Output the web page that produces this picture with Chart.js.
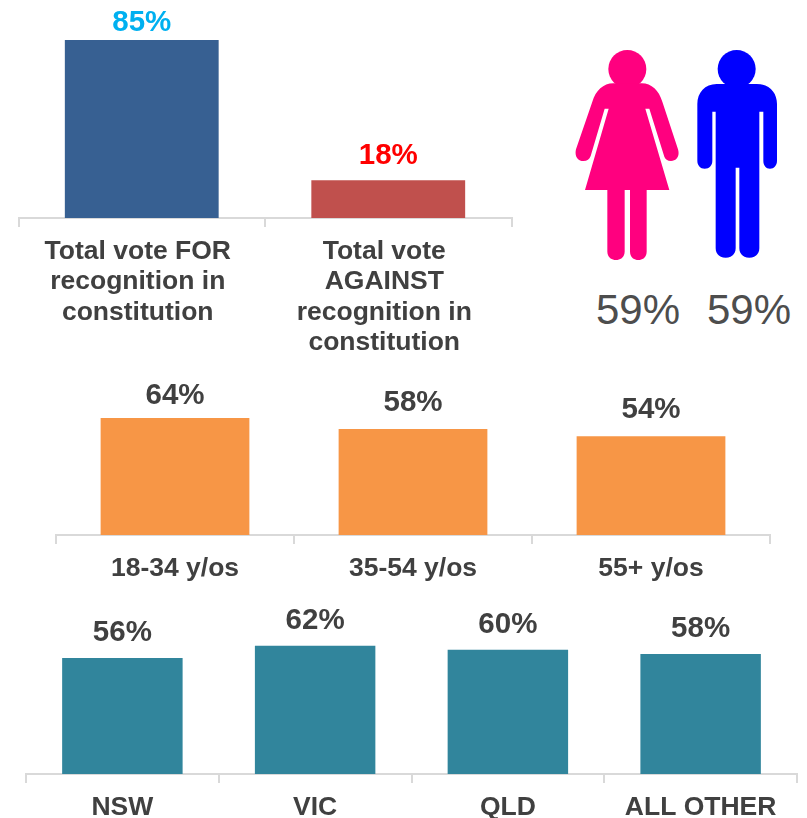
<!DOCTYPE html>
<html>
<head>
<meta charset="utf-8">
<style>
html,body{margin:0;padding:0;background:#fff;width:807px;height:818px;overflow:hidden}
canvas{position:absolute;display:block}
#icons{position:absolute;left:560px;top:30px}
.pct{position:absolute;top:286px;width:120px;text-align:center;font:42px/48px "Liberation Sans",Arial,sans-serif;color:#4d4d4d}
</style>
<script src="https://cdn.jsdelivr.net/npm/chart.js@4"></script>
</head>
<body>
<canvas id="voteChart" width="496" height="365" style="left:17px;top:0"></canvas>
<canvas id="ageChart" width="716" height="218" style="left:55px;top:370px"></canvas>
<canvas id="stateChart" width="773" height="228" style="left:25px;top:590px"></canvas>
<svg id="icons" width="240" height="310" viewBox="0 0 720 930">
  <circle cx="202" cy="117" r="57" fill="#FF007F"/>
  <path fill="#FF007F" d="M160 160H245C275 160 297 182 307 215L354 358C360 378 350 393 333 393C322 393 316 387 313 380L268 236H256L328 480H260V665C260 680 250 690 235 690C220 690 210 680 210 665V480H194V665C194 680 183 690 168 690C153 690 142 680 142 665V480H75L146 236H134L92 378C88 388 82 393 70 393C53 393 43 378 48 358L97 215C107 182 130 160 160 160Z"/>
  <circle cx="530" cy="117" r="57" fill="#0000FF"/>
  <path fill="#0000FF" d="M470 162H590C628 162 651 188 651 222V392C651 406 642 416 630 416C618 416 610 406 610 392V245H598V655C598 672 586 683 568 683C550 683 538 672 538 655V413H527V655C527 672 515 683 497 683C479 683 467 672 467 655V245H457V392C457 406 448 416 434 416C421 416 412 406 412 392V222C412 188 435 162 470 162Z"/>
</svg>
<div class="pct" style="left:578px">59%</div>
<div class="pct" style="left:689px">59%</div>
<script>
const voteCategories = [["Total vote FOR","recognition in","constitution"],["Total vote","AGAINST","recognition in","constitution"]];
const voteValues = [85, 18];
const ageCategories = ["18-34 y/os","35-54 y/os","55+ y/os"];
const ageValues = [64, 58, 54];
const stateCategories = ["NSW","VIC","QLD","ALL OTHER"];
const stateValues = [56, 62, 60, 58];

const FONT = '"Liberation Sans", Arial, sans-serif';
const TEXT = '#404040';

const valueLabels = {
  id: 'valueLabels',
  afterDatasetsDraw(chart, args, opts) {
    const ctx = chart.ctx;
    const meta = chart.getDatasetMeta(0);
    ctx.save();
    ctx.font = 'bold ' + opts.size + 'px ' + FONT;
    ctx.textAlign = 'center';
    ctx.textBaseline = 'middle';
    meta.data.forEach((bar, i) => {
      ctx.fillStyle = opts.colors[i % opts.colors.length];
      ctx.fillText(chart.data.datasets[0].data[i] + '%', bar.x, bar.y - opts.gaps[i % opts.gaps.length]);
    });
    ctx.restore();
  }
};

function makeChart(id, labels, values, cfg) {
  const canvas = document.getElementById(id);
  return new Chart(canvas, {
    type: 'bar',
    data: { labels, datasets: [{ data: values, backgroundColor: cfg.colors, borderWidth: 0,
      categoryPercentage: 1, barPercentage: cfg.barRatio }] },
    plugins: [valueLabels],
    options: {
      responsive: false, animation: false, devicePixelRatio: 1,
      layout: { padding: { left: cfg.side || 1, right: cfg.side || 1, top: 0, bottom: 0 } },
      plugins: { legend: { display: false }, tooltip: { enabled: false },
        valueLabels: { size: 29.5, colors: cfg.labelColors, gaps: cfg.gaps } },
      scales: {
        y: { display: false, min: 0, max: cfg.yMax },
        x: {
          offset: true,
          border: { display: true, color: '#D9D9D9', width: 2 },
          grid: { display: true, drawOnChartArea: false, drawTicks: true, tickLength: 9, color: '#D9D9D9', lineWidth: 2, offset: true },
          ticks: { autoSkip: false, maxRotation: 0, minRotation: 0, padding: 9, labelOffset: cfg.labelOffset || 0, color: TEXT,
            font: { family: FONT, size: 26.5, weight: 'bold', lineHeight: 30.5 / 26.5 } },
          afterFit(scale) { scale.height = canvas.height - cfg.baseline; }
        }
      }
    }
  });
}

makeChart('voteChart', voteCategories, voteValues, {
  colors: ['#376092', '#C0504D'], labelColors: ['#00B0F0', '#FF0000'], gaps: [17, 24],
  barRatio: 0.624, yMax: 104.1, baseline: 218, labelOffset: -4, side: 1.5 });
makeChart('ageChart', ageCategories, ageValues, {
  colors: '#F79646', labelColors: [TEXT], gaps: [22, 26, 26],
  barRatio: 0.625, yMax: 90.2, baseline: 165 });
makeChart('stateChart', stateCategories, stateValues, {
  colors: '#31859C', labelColors: [TEXT], gaps: [25, 25, 25, 25],
  barRatio: 0.625, yMax: 88.9, baseline: 184 });
</script>
</body>
</html>
